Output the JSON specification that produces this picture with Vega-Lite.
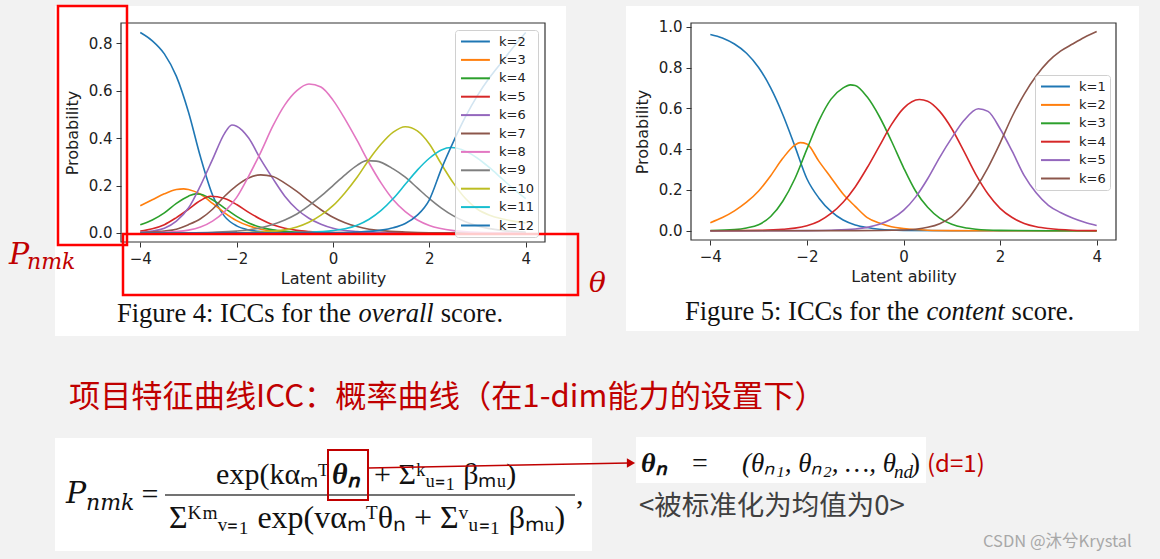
{
  "$schema": "https://vega.github.io/schema/vega-lite/v6.json",
  "background": "#f2f2f2",
  "padding": {"left": 8, "top": 4, "right": 40, "bottom": 40},
  "bounds": "flush",
  "spacing": 146,
  "resolve": {"scale": {"color": "independent"}},
  "config": {
    "view": {"stroke": null},
    "axis": {"grid": false, "domain": false, "tickColor": "#333", "tickSize": 5, "tickWidth": 1,
      "labelFont": "DejaVu Sans", "labelFontSize": 15, "labelColor": "#222", "labelPadding": 4,
      "titleFont": "DejaVu Sans", "titleFontSize": 16, "titleFontWeight": "normal", "titleColor": "#222"},
    "legend": {"title": null, "symbolType": "M-0.85,0H3.6", "symbolStrokeWidth": 2, "symbolSize": 169,
      "labelFont": "DejaVu Sans", "labelFontSize": 13, "labelColor": "#222", "rowPadding": 3.4, "padding": 4,
      "fillColor": "rgba(255,255,255,0.8)", "strokeColor": "#d0d0d0", "cornerRadius": 3, "labelOffset": 25, "zindex": 2}
  },
  "datasets": {
    "overall": [
      {"k":"k=2","t":-4,"p":0.845},{"k":"k=2","t":-3.75,"p":0.81},{"k":"k=2","t":-3.5,"p":0.755},{"k":"k=2","t":-3.25,"p":0.66},{"k":"k=2","t":-3,"p":0.51},{"k":"k=2","t":-2.75,"p":0.32},{"k":"k=2","t":-2.5,"p":0.16},{"k":"k=2","t":-2.25,"p":0.07},{"k":"k=2","t":-2,"p":0.03},{"k":"k=2","t":-1.75,"p":0.013},{"k":"k=2","t":-1.5,"p":0.006},{"k":"k=2","t":-1,"p":0.002},{"k":"k=2","t":0,"p":0.0005},{"k":"k=2","t":4,"p":0},
      {"k":"k=3","t":-4,"p":0.115},{"k":"k=3","t":-3.75,"p":0.14},{"k":"k=3","t":-3.5,"p":0.165},{"k":"k=3","t":-3.25,"p":0.183},{"k":"k=3","t":-3.1,"p":0.186},{"k":"k=3","t":-3,"p":0.183},{"k":"k=3","t":-2.75,"p":0.163},{"k":"k=3","t":-2.5,"p":0.125},{"k":"k=3","t":-2.25,"p":0.085},{"k":"k=3","t":-2,"p":0.052},{"k":"k=3","t":-1.75,"p":0.03},{"k":"k=3","t":-1.5,"p":0.016},{"k":"k=3","t":-1.25,"p":0.008},{"k":"k=3","t":-1,"p":0.004},{"k":"k=3","t":-0.5,"p":0.001},{"k":"k=3","t":0.5,"p":0},{"k":"k=3","t":4,"p":0},
      {"k":"k=4","t":-4,"p":0.035},{"k":"k=4","t":-3.75,"p":0.055},{"k":"k=4","t":-3.5,"p":0.085},{"k":"k=4","t":-3.25,"p":0.125},{"k":"k=4","t":-3,"p":0.155},{"k":"k=4","t":-2.85,"p":0.165},{"k":"k=4","t":-2.75,"p":0.163},{"k":"k=4","t":-2.5,"p":0.14},{"k":"k=4","t":-2.25,"p":0.105},{"k":"k=4","t":-2,"p":0.07},{"k":"k=4","t":-1.75,"p":0.042},{"k":"k=4","t":-1.5,"p":0.024},{"k":"k=4","t":-1.25,"p":0.013},{"k":"k=4","t":-1,"p":0.007},{"k":"k=4","t":-0.5,"p":0.002},{"k":"k=4","t":0,"p":0.0005},{"k":"k=4","t":4,"p":0},
      {"k":"k=5","t":-4,"p":0.008},{"k":"k=5","t":-3.75,"p":0.018},{"k":"k=5","t":-3.5,"p":0.035},{"k":"k=5","t":-3.25,"p":0.065},{"k":"k=5","t":-3,"p":0.1},{"k":"k=5","t":-2.75,"p":0.137},{"k":"k=5","t":-2.55,"p":0.155},{"k":"k=5","t":-2.25,"p":0.145},{"k":"k=5","t":-2,"p":0.12},{"k":"k=5","t":-1.75,"p":0.087},{"k":"k=5","t":-1.5,"p":0.058},{"k":"k=5","t":-1.25,"p":0.035},{"k":"k=5","t":-1,"p":0.02},{"k":"k=5","t":-0.75,"p":0.011},{"k":"k=5","t":-0.5,"p":0.006},{"k":"k=5","t":0,"p":0.0015},{"k":"k=5","t":1,"p":0},{"k":"k=5","t":4,"p":0},
      {"k":"k=6","t":-4,"p":0.003},{"k":"k=6","t":-3.75,"p":0.008},{"k":"k=6","t":-3.5,"p":0.02},{"k":"k=6","t":-3.25,"p":0.05},{"k":"k=6","t":-3,"p":0.105},{"k":"k=6","t":-2.75,"p":0.2},{"k":"k=6","t":-2.5,"p":0.31},{"k":"k=6","t":-2.25,"p":0.42},{"k":"k=6","t":-2.1,"p":0.455},{"k":"k=6","t":-2,"p":0.45},{"k":"k=6","t":-1.75,"p":0.4},{"k":"k=6","t":-1.5,"p":0.31},{"k":"k=6","t":-1.25,"p":0.23},{"k":"k=6","t":-1,"p":0.155},{"k":"k=6","t":-0.75,"p":0.1},{"k":"k=6","t":-0.5,"p":0.062},{"k":"k=6","t":-0.25,"p":0.037},{"k":"k=6","t":0,"p":0.02},{"k":"k=6","t":0.5,"p":0.006},{"k":"k=6","t":1,"p":0.0015},{"k":"k=6","t":2,"p":0},{"k":"k=6","t":4,"p":0},
      {"k":"k=7","t":-4,"p":0.002},{"k":"k=7","t":-3.5,"p":0.008},{"k":"k=7","t":-3.25,"p":0.016},{"k":"k=7","t":-3,"p":0.035},{"k":"k=7","t":-2.75,"p":0.06},{"k":"k=7","t":-2.5,"p":0.1},{"k":"k=7","t":-2.25,"p":0.155},{"k":"k=7","t":-2,"p":0.2},{"k":"k=7","t":-1.75,"p":0.232},{"k":"k=7","t":-1.5,"p":0.245},{"k":"k=7","t":-1.25,"p":0.238},{"k":"k=7","t":-1,"p":0.21},{"k":"k=7","t":-0.75,"p":0.175},{"k":"k=7","t":-0.5,"p":0.135},{"k":"k=7","t":-0.25,"p":0.098},{"k":"k=7","t":0,"p":0.066},{"k":"k=7","t":0.25,"p":0.043},{"k":"k=7","t":0.5,"p":0.027},{"k":"k=7","t":0.75,"p":0.016},{"k":"k=7","t":1,"p":0.01},{"k":"k=7","t":1.5,"p":0.004},{"k":"k=7","t":2,"p":0.001},{"k":"k=7","t":3,"p":0},{"k":"k=7","t":4,"p":0},
      {"k":"k=8","t":-4,"p":0.001},{"k":"k=8","t":-3.5,"p":0.003},{"k":"k=8","t":-3,"p":0.012},{"k":"k=8","t":-2.75,"p":0.025},{"k":"k=8","t":-2.5,"p":0.05},{"k":"k=8","t":-2.25,"p":0.09},{"k":"k=8","t":-2,"p":0.15},{"k":"k=8","t":-1.75,"p":0.24},{"k":"k=8","t":-1.5,"p":0.34},{"k":"k=8","t":-1.25,"p":0.45},{"k":"k=8","t":-1,"p":0.54},{"k":"k=8","t":-0.75,"p":0.6},{"k":"k=8","t":-0.5,"p":0.628},{"k":"k=8","t":-0.25,"p":0.615},{"k":"k=8","t":0,"p":0.56},{"k":"k=8","t":0.25,"p":0.48},{"k":"k=8","t":0.5,"p":0.39},{"k":"k=8","t":0.75,"p":0.295},{"k":"k=8","t":1,"p":0.21},{"k":"k=8","t":1.25,"p":0.14},{"k":"k=8","t":1.5,"p":0.09},{"k":"k=8","t":1.75,"p":0.055},{"k":"k=8","t":2,"p":0.032},{"k":"k=8","t":2.5,"p":0.01},{"k":"k=8","t":3,"p":0.003},{"k":"k=8","t":4,"p":0.0003},
      {"k":"k=9","t":-4,"p":0},{"k":"k=9","t":-3,"p":0.001},{"k":"k=9","t":-2.5,"p":0.003},{"k":"k=9","t":-2,"p":0.008},{"k":"k=9","t":-1.5,"p":0.022},{"k":"k=9","t":-1.25,"p":0.036},{"k":"k=9","t":-1,"p":0.055},{"k":"k=9","t":-0.75,"p":0.08},{"k":"k=9","t":-0.5,"p":0.115},{"k":"k=9","t":-0.25,"p":0.155},{"k":"k=9","t":0,"p":0.2},{"k":"k=9","t":0.25,"p":0.245},{"k":"k=9","t":0.5,"p":0.285},{"k":"k=9","t":0.7,"p":0.305},{"k":"k=9","t":0.9,"p":0.303},{"k":"k=9","t":1.25,"p":0.27},{"k":"k=9","t":1.5,"p":0.235},{"k":"k=9","t":1.75,"p":0.19},{"k":"k=9","t":2,"p":0.145},{"k":"k=9","t":2.25,"p":0.105},{"k":"k=9","t":2.5,"p":0.072},{"k":"k=9","t":2.75,"p":0.047},{"k":"k=9","t":3,"p":0.03},{"k":"k=9","t":3.5,"p":0.011},{"k":"k=9","t":4,"p":0.004},
      {"k":"k=10","t":-4,"p":0},{"k":"k=10","t":-2,"p":0.001},{"k":"k=10","t":-1.5,"p":0.004},{"k":"k=10","t":-1,"p":0.013},{"k":"k=10","t":-0.75,"p":0.025},{"k":"k=10","t":-0.5,"p":0.045},{"k":"k=10","t":-0.25,"p":0.075},{"k":"k=10","t":0,"p":0.115},{"k":"k=10","t":0.25,"p":0.17},{"k":"k=10","t":0.5,"p":0.235},{"k":"k=10","t":0.75,"p":0.31},{"k":"k=10","t":1,"p":0.375},{"k":"k=10","t":1.25,"p":0.425},{"k":"k=10","t":1.5,"p":0.448},{"k":"k=10","t":1.75,"p":0.43},{"k":"k=10","t":2,"p":0.375},{"k":"k=10","t":2.25,"p":0.29},{"k":"k=10","t":2.5,"p":0.21},{"k":"k=10","t":2.75,"p":0.145},{"k":"k=10","t":3,"p":0.1},{"k":"k=10","t":3.25,"p":0.075},{"k":"k=10","t":3.5,"p":0.06},{"k":"k=10","t":3.75,"p":0.05},{"k":"k=10","t":4,"p":0.042},
      {"k":"k=11","t":-4,"p":0},{"k":"k=11","t":-1,"p":0.001},{"k":"k=11","t":-0.5,"p":0.003},{"k":"k=11","t":0,"p":0.01},{"k":"k=11","t":0.25,"p":0.018},{"k":"k=11","t":0.5,"p":0.033},{"k":"k=11","t":0.75,"p":0.058},{"k":"k=11","t":1,"p":0.095},{"k":"k=11","t":1.25,"p":0.145},{"k":"k=11","t":1.5,"p":0.205},{"k":"k=11","t":1.75,"p":0.265},{"k":"k=11","t":2,"p":0.315},{"k":"k=11","t":2.25,"p":0.35},{"k":"k=11","t":2.45,"p":0.36},{"k":"k=11","t":2.75,"p":0.345},{"k":"k=11","t":3,"p":0.315},{"k":"k=11","t":3.25,"p":0.275},{"k":"k=11","t":3.5,"p":0.23},{"k":"k=11","t":3.75,"p":0.185},{"k":"k=11","t":4,"p":0.145},
      {"k":"k=12","t":-4,"p":0},{"k":"k=12","t":0,"p":0.001},{"k":"k=12","t":0.5,"p":0.004},{"k":"k=12","t":1,"p":0.012},{"k":"k=12","t":1.25,"p":0.022},{"k":"k=12","t":1.5,"p":0.04},{"k":"k=12","t":1.75,"p":0.075},{"k":"k=12","t":2,"p":0.14},{"k":"k=12","t":2.25,"p":0.27},{"k":"k=12","t":2.5,"p":0.385},{"k":"k=12","t":2.75,"p":0.49},{"k":"k=12","t":3,"p":0.58},{"k":"k=12","t":3.25,"p":0.655},{"k":"k=12","t":3.5,"p":0.72},{"k":"k=12","t":3.75,"p":0.785},{"k":"k=12","t":4,"p":0.845}
    ],
    "content": [
      {"k":"k=1","t":-4,"p":0.962},{"k":"k=1","t":-3.75,"p":0.945},{"k":"k=1","t":-3.5,"p":0.915},{"k":"k=1","t":-3.25,"p":0.87},{"k":"k=1","t":-3,"p":0.8},{"k":"k=1","t":-2.75,"p":0.7},{"k":"k=1","t":-2.5,"p":0.57},{"k":"k=1","t":-2.25,"p":0.415},{"k":"k=1","t":-2,"p":0.255},{"k":"k=1","t":-1.75,"p":0.16},{"k":"k=1","t":-1.5,"p":0.095},{"k":"k=1","t":-1.25,"p":0.053},{"k":"k=1","t":-1,"p":0.029},{"k":"k=1","t":-0.75,"p":0.016},{"k":"k=1","t":-0.5,"p":0.008},{"k":"k=1","t":0,"p":0.002},{"k":"k=1","t":1,"p":0},{"k":"k=1","t":4,"p":0},
      {"k":"k=2","t":-4,"p":0.04},{"k":"k=2","t":-3.75,"p":0.065},{"k":"k=2","t":-3.5,"p":0.098},{"k":"k=2","t":-3.25,"p":0.14},{"k":"k=2","t":-3,"p":0.195},{"k":"k=2","t":-2.75,"p":0.27},{"k":"k=2","t":-2.5,"p":0.355},{"k":"k=2","t":-2.25,"p":0.42},{"k":"k=2","t":-2.14,"p":0.432},{"k":"k=2","t":-2,"p":0.425},{"k":"k=2","t":-1.75,"p":0.34},{"k":"k=2","t":-1.5,"p":0.26},{"k":"k=2","t":-1.25,"p":0.18},{"k":"k=2","t":-1,"p":0.12},{"k":"k=2","t":-0.75,"p":0.065},{"k":"k=2","t":-0.5,"p":0.038},{"k":"k=2","t":-0.25,"p":0.02},{"k":"k=2","t":0,"p":0.011},{"k":"k=2","t":0.5,"p":0.003},{"k":"k=2","t":1,"p":0.001},{"k":"k=2","t":2,"p":0},{"k":"k=2","t":4,"p":0},
      {"k":"k=3","t":-4,"p":0.001},{"k":"k=3","t":-3.5,"p":0.006},{"k":"k=3","t":-3.25,"p":0.014},{"k":"k=3","t":-3,"p":0.03},{"k":"k=3","t":-2.75,"p":0.07},{"k":"k=3","t":-2.5,"p":0.145},{"k":"k=3","t":-2.25,"p":0.255},{"k":"k=3","t":-2,"p":0.4},{"k":"k=3","t":-1.75,"p":0.54},{"k":"k=3","t":-1.5,"p":0.645},{"k":"k=3","t":-1.25,"p":0.7},{"k":"k=3","t":-1.1,"p":0.715},{"k":"k=3","t":-1,"p":0.712},{"k":"k=3","t":-0.75,"p":0.655},{"k":"k=3","t":-0.5,"p":0.56},{"k":"k=3","t":-0.25,"p":0.44},{"k":"k=3","t":0,"p":0.31},{"k":"k=3","t":0.25,"p":0.195},{"k":"k=3","t":0.5,"p":0.115},{"k":"k=3","t":0.75,"p":0.062},{"k":"k=3","t":1,"p":0.032},{"k":"k=3","t":1.25,"p":0.016},{"k":"k=3","t":1.5,"p":0.008},{"k":"k=3","t":2,"p":0.002},{"k":"k=3","t":3,"p":0},{"k":"k=3","t":4,"p":0},
      {"k":"k=4","t":-4,"p":0},{"k":"k=4","t":-3,"p":0.002},{"k":"k=4","t":-2.5,"p":0.007},{"k":"k=4","t":-2.25,"p":0.013},{"k":"k=4","t":-2,"p":0.025},{"k":"k=4","t":-1.75,"p":0.047},{"k":"k=4","t":-1.5,"p":0.085},{"k":"k=4","t":-1.25,"p":0.14},{"k":"k=4","t":-1,"p":0.215},{"k":"k=4","t":-0.75,"p":0.31},{"k":"k=4","t":-0.5,"p":0.415},{"k":"k=4","t":-0.25,"p":0.52},{"k":"k=4","t":0,"p":0.6},{"k":"k=4","t":0.33,"p":0.643},{"k":"k=4","t":0.5,"p":0.635},{"k":"k=4","t":0.75,"p":0.585},{"k":"k=4","t":1,"p":0.5},{"k":"k=4","t":1.25,"p":0.39},{"k":"k=4","t":1.5,"p":0.275},{"k":"k=4","t":1.75,"p":0.18},{"k":"k=4","t":2,"p":0.11},{"k":"k=4","t":2.25,"p":0.065},{"k":"k=4","t":2.5,"p":0.036},{"k":"k=4","t":2.75,"p":0.02},{"k":"k=4","t":3,"p":0.011},{"k":"k=4","t":3.5,"p":0.003},{"k":"k=4","t":4,"p":0.001},
      {"k":"k=5","t":-4,"p":0},{"k":"k=5","t":-2,"p":0.001},{"k":"k=5","t":-1.5,"p":0.003},{"k":"k=5","t":-1,"p":0.009},{"k":"k=5","t":-0.75,"p":0.017},{"k":"k=5","t":-0.5,"p":0.032},{"k":"k=5","t":-0.25,"p":0.058},{"k":"k=5","t":0,"p":0.1},{"k":"k=5","t":0.25,"p":0.165},{"k":"k=5","t":0.5,"p":0.255},{"k":"k=5","t":0.75,"p":0.36},{"k":"k=5","t":1,"p":0.455},{"k":"k=5","t":1.25,"p":0.54},{"k":"k=5","t":1.55,"p":0.598},{"k":"k=5","t":1.75,"p":0.585},{"k":"k=5","t":2,"p":0.5},{"k":"k=5","t":2.25,"p":0.39},{"k":"k=5","t":2.5,"p":0.27},{"k":"k=5","t":2.75,"p":0.185},{"k":"k=5","t":3,"p":0.125},{"k":"k=5","t":3.25,"p":0.09},{"k":"k=5","t":3.5,"p":0.063},{"k":"k=5","t":3.75,"p":0.042},{"k":"k=5","t":4,"p":0.026},
      {"k":"k=6","t":-4,"p":0},{"k":"k=6","t":-1,"p":0.001},{"k":"k=6","t":0,"p":0.004},{"k":"k=6","t":0.25,"p":0.008},{"k":"k=6","t":0.5,"p":0.017},{"k":"k=6","t":0.75,"p":0.035},{"k":"k=6","t":1,"p":0.07},{"k":"k=6","t":1.25,"p":0.13},{"k":"k=6","t":1.5,"p":0.21},{"k":"k=6","t":1.75,"p":0.31},{"k":"k=6","t":2,"p":0.43},{"k":"k=6","t":2.25,"p":0.56},{"k":"k=6","t":2.5,"p":0.67},{"k":"k=6","t":2.75,"p":0.76},{"k":"k=6","t":3,"p":0.83},{"k":"k=6","t":3.25,"p":0.88},{"k":"k=6","t":3.5,"p":0.915},{"k":"k=6","t":3.75,"p":0.948},{"k":"k=6","t":4,"p":0.976}
    ]
  },
  "hconcat": [
    {
      "width": 424, "height": 219,
      "data": {"values": [{}]},
      "layer": [
        {"mark": {"type": "rect", "fill": "white"}, "encoding": {"x": {"datum": -5.770}, "x2": {"datum": 4.836}, "y": {"datum": 0.9567}, "y2": {"datum": -0.4342}}},
        {"mark": {"type": "rect", "filled": false, "stroke": "#333", "strokeWidth": 1.2}, "encoding": {"x": {"datum": -4.4}, "x2": {"datum": 4.4}, "y": {"datum": -0.038}, "y2": {"datum": 0.885}}},
        {
          "data": {"name": "overall"},
          "mark": {"type": "line", "interpolate": "monotone", "strokeWidth": 1.6},
          "encoding": {
            "x": {"field": "t", "type": "quantitative", "scale": {"domain": [-4.4, 4.4], "nice": false, "zero": false}, "axis": {"values": [-4, -2, 0, 2, 4], "format": "d", "title": "Latent ability", "titlePadding": 4, "zindex": 1}},
            "y": {"field": "p", "type": "quantitative", "scale": {"domain": [-0.038, 0.885], "nice": false, "zero": false}, "axis": {"values": [0, 0.2, 0.4, 0.6, 0.8], "format": ".1f", "title": "Probability", "titlePadding": 8, "zindex": 1}},
            "color": {"field": "k", "type": "nominal",
              "scale": {"domain": ["k=2","k=3","k=4","k=5","k=6","k=7","k=8","k=9","k=10","k=11","k=12"],
                        "range": ["#1f77b4","#ff7f0e","#2ca02c","#d62728","#9467bd","#8c564b","#e377c2","#7f7f7f","#bcbd22","#17becf","#1f77b4"]},
              "legend": {"orient": "none", "legendX": 334, "legendY": 7}}
          }
        },
        {"mark": {"type": "rect", "filled": false, "stroke": "#ff0000", "strokeWidth": 2.5}, "encoding": {"x": {"datum": -5.7076}, "x2": {"datum": -4.2755}, "y": {"datum": 0.9567}, "y2": {"datum": -0.0507}}},
        {"mark": {"type": "rect", "filled": false, "stroke": "#ff0000", "strokeWidth": 2.5}, "encoding": {"x": {"datum": -4.3585}, "x2": {"datum": 5.085}, "y": {"datum": -0.0043}, "y2": {"datum": -0.2614}}},
        {"mark": {"type": "text", "text": "P", "font": "DejaVu Serif", "fontStyle": "italic", "fontSize": 30, "color": "#c00000", "align": "left", "baseline": "alphabetic"}, "encoding": {"x": {"datum": -6.7246}, "y": {"datum": -0.1307}}},
        {"mark": {"type": "text", "text": "nmk", "font": "DejaVu Serif", "fontStyle": "italic", "fontSize": 22, "color": "#c00000", "align": "left", "baseline": "alphabetic"}, "encoding": {"x": {"datum": -6.351}, "y": {"datum": -0.1518}}},
        {"mark": {"type": "text", "text": "θ", "font": "DejaVu Serif", "fontStyle": "italic", "fontSize": 28, "color": "#c00000", "align": "left", "baseline": "alphabetic"}, "encoding": {"x": {"datum": 5.313}, "y": {"datum": -0.2487}}},
        {"mark": {"type": "text", "text": "Figure 4: ICCs for the", "font": "Liberation Serif", "fontSize": 26.5, "color": "#111", "align": "left", "baseline": "alphabetic"}, "encoding": {"x": {"datum": -4.483}, "y": {"datum": -0.3752}}},
        {"mark": {"type": "text", "text": "overall", "font": "Liberation Serif", "fontStyle": "italic", "fontSize": 26.5, "color": "#111", "align": "left", "baseline": "alphabetic"}, "encoding": {"x": {"datum": 0.5315}, "y": {"datum": -0.3752}}},
        {"mark": {"type": "text", "text": "score.", "font": "Liberation Serif", "fontSize": 26.5, "color": "#111", "align": "left", "baseline": "alphabetic"}, "encoding": {"x": {"datum": 2.2355}, "y": {"datum": -0.3752}}},
        {"mark": {"type": "text", "text": "项目特征曲线ICC：概率曲线（在1-dim能力的设置下）", "font": "Noto Sans CJK SC", "fontSize": 31.2, "color": "#c00000", "align": "left", "baseline": "alphabetic"}, "encoding": {"x": {"datum": -5.4793}, "y": {"datum": -0.7334}}},
        {"mark": {"type": "rect", "fill": "white"}, "encoding": {"x": {"datum": -5.770}, "x2": {"datum": 5.376}, "y": {"datum": -0.8641}, "y2": {"datum": -1.3403}}},
        {"mark": {"type": "text", "text": "P", "font": "DejaVu Serif", "fontStyle": "italic", "fontSize": 30, "color": "#111", "align": "left", "baseline": "alphabetic"}, "encoding": {"x": {"datum": -5.5415}, "y": {"datum": -1.138}}},
        {"mark": {"type": "text", "text": "nmk", "font": "DejaVu Serif", "fontStyle": "italic", "fontSize": 22, "color": "#111", "align": "left", "baseline": "alphabetic"}, "encoding": {"x": {"datum": -5.1264}, "y": {"datum": -1.1675}}},
        {"mark": {"type": "text", "text": "=", "font": "Liberation Serif", "fontSize": 30, "color": "#111", "align": "center", "baseline": "alphabetic"}, "encoding": {"x": {"datum": -3.7981}, "y": {"datum": -1.1422}}},
        {"mark": {"type": "rule", "color": "#444", "strokeWidth": 1.6}, "encoding": {"x": {"datum": -3.4868}, "x2": {"datum": 5.0229}, "y": {"datum": -1.1043}}},
        {"mark": {"type": "text", "text": "exp(kαₘᵀ", "font": "Liberation Serif", "fontSize": 30, "color": "#111", "align": "right", "baseline": "alphabetic"}, "encoding": {"x": {"datum": -0.0829}, "y": {"datum": -1.0579}}},
        {"mark": {"type": "text", "text": "θₙ", "font": "Liberation Serif", "fontStyle": "italic", "fontWeight": "bold", "fontSize": 30, "color": "#111", "align": "left", "baseline": "alphabetic"}, "encoding": {"x": {"datum": -0.0206}, "y": {"datum": -1.0579}}},
        {"mark": {"type": "text", "text": "+ Σᵏᵤ₌₁ βₘᵤ)", "font": "Liberation Serif", "fontSize": 30, "color": "#111", "align": "left", "baseline": "alphabetic"}, "encoding": {"x": {"datum": 0.8511}, "y": {"datum": -1.0579}}},
        {"mark": {"type": "text", "text": "Σᴷᵐᵥ₌₁ exp(vαₘᵀθₙ + Σᵛᵤ₌₁ βₘᵤ)", "font": "Liberation Serif", "fontSize": 32, "color": "#111", "align": "center", "baseline": "alphabetic"}, "encoding": {"x": {"datum": 0.7058}, "y": {"datum": -1.2434}}},
        {"mark": {"type": "text", "text": ",", "font": "Liberation Serif", "fontSize": 30, "color": "#111", "align": "left", "baseline": "alphabetic"}, "encoding": {"x": {"datum": 5.0437}, "y": {"datum": -1.1422}}},
        {"mark": {"type": "rect", "filled": false, "stroke": "#c00000", "strokeWidth": 2}, "encoding": {"x": {"datum": -0.1037}, "x2": {"datum": 0.7265}, "y": {"datum": -0.9146}, "y2": {"datum": -1.1254}}}
      ]
    },
    {
      "width": 425, "height": 217,
      "data": {"values": [{}]},
      "layer": [
        {"mark": {"type": "rect", "fill": "white"}, "encoding": {"x": {"datum": -5.7459}, "x2": {"datum": 4.8763}, "y": {"datum": 1.1013}, "y2": {"datum": -0.4908}}},
        {"mark": {"type": "rect", "filled": false, "stroke": "#333", "strokeWidth": 1.2}, "encoding": {"x": {"datum": -4.4}, "x2": {"datum": 4.4}, "y": {"datum": -0.045}, "y2": {"datum": 1.018}}},
        {
          "data": {"name": "content"},
          "mark": {"type": "line", "interpolate": "monotone", "strokeWidth": 1.6},
          "encoding": {
            "x": {"field": "t", "type": "quantitative", "scale": {"domain": [-4.4, 4.4], "nice": false, "zero": false}, "axis": {"values": [-4, -2, 0, 2, 4], "format": "d", "title": "Latent ability", "titlePadding": 4, "zindex": 1}},
            "y": {"field": "p", "type": "quantitative", "scale": {"domain": [-0.045, 1.018], "nice": false, "zero": false}, "axis": {"values": [0, 0.2, 0.4, 0.6, 0.8, 1.0], "format": ".1f", "title": "Probability", "titlePadding": 8, "zindex": 1}},
            "color": {"field": "k", "type": "nominal",
              "scale": {"domain": ["k=1","k=2","k=3","k=4","k=5","k=6"],
                        "range": ["#1f77b4","#ff7f0e","#2ca02c","#d62728","#9467bd","#8c564b"]},
              "legend": {"orient": "none", "legendX": 344, "legendY": 52}}
          }
        },
        {"mark": {"type": "text", "text": "Figure 5: ICCs for the", "font": "Liberation Serif", "fontSize": 26.5, "color": "#111", "align": "left", "baseline": "alphabetic"}, "encoding": {"x": {"datum": -4.5242}, "y": {"datum": -0.4369}}},
        {"mark": {"type": "text", "text": "content", "font": "Liberation Serif", "fontStyle": "italic", "fontSize": 26.5, "color": "#111", "align": "left", "baseline": "alphabetic"}, "encoding": {"x": {"datum": 0.4784}, "y": {"datum": -0.4369}}},
        {"mark": {"type": "text", "text": "score.", "font": "Liberation Serif", "fontSize": 26.5, "color": "#111", "align": "left", "baseline": "alphabetic"}, "encoding": {"x": {"datum": 2.2384}, "y": {"datum": -0.4369}}},
        {"mark": {"type": "rect", "fill": "white"}, "encoding": {"x": {"datum": -5.5388}, "x2": {"datum": 0.4659}, "y": {"datum": -1.01}, "y2": {"datum": -1.2353}}},
        {"mark": {"type": "rule", "color": "#c00000", "strokeWidth": 1.5}, "encoding": {"x": {"datum": -11.0881}, "x2": {"datum": -5.6838}, "y": {"datum": -1.1619}, "y2": {"datum": -1.1374}}},
        {"mark": {"type": "point", "shape": "triangle-right", "filled": true, "color": "#c00000", "size": 90, "opacity": 1}, "encoding": {"x": {"datum": -5.6424}, "y": {"datum": -1.1374}}},
        {"mark": {"type": "text", "text": "θₙ", "font": "Liberation Serif", "fontStyle": "italic", "fontWeight": "bold", "fontSize": 28, "color": "#111", "align": "left", "baseline": "alphabetic"}, "encoding": {"x": {"datum": -5.4353}, "y": {"datum": -1.1815}}},
        {"mark": {"type": "text", "text": "=", "font": "Liberation Serif", "fontSize": 28, "color": "#111", "align": "center", "baseline": "alphabetic"}, "encoding": {"x": {"datum": -4.2136}, "y": {"datum": -1.1815}}},
        {"mark": {"type": "text", "text": "(θₙ₁, θₙ₂, …, θ", "font": "Liberation Serif", "fontStyle": "italic", "fontSize": 27, "color": "#111", "align": "left", "baseline": "alphabetic"}, "encoding": {"x": {"datum": -3.344}, "y": {"datum": -1.1815}}},
        {"mark": {"type": "text", "text": "nd", "font": "Liberation Serif", "fontStyle": "italic", "fontSize": 19, "color": "#111", "align": "left", "baseline": "alphabetic"}, "encoding": {"x": {"datum": -0.1967}, "y": {"datum": -1.2109}}},
        {"mark": {"type": "text", "text": ")", "font": "Liberation Serif", "fontSize": 27, "color": "#111", "align": "left", "baseline": "alphabetic"}, "encoding": {"x": {"datum": 0.1553}, "y": {"datum": -1.1815}}},
        {"mark": {"type": "text", "text": "(d=1)", "font": "Noto Sans CJK SC", "fontSize": 24, "color": "#c00000", "align": "left", "baseline": "alphabetic"}, "encoding": {"x": {"datum": 0.4866}, "y": {"datum": -1.1815}}},
        {"mark": {"type": "text", "text": "<被标准化为均值为0>", "font": "Noto Sans CJK SC", "fontSize": 27.5, "color": "#404040", "align": "left", "baseline": "alphabetic"}, "encoding": {"x": {"datum": -5.4767}, "y": {"datum": -1.3921}}},
        {"mark": {"type": "text", "text": "CSDN @沐兮Krystal", "font": "Noto Sans CJK SC", "fontSize": 16.5, "color": "#a8a8a8", "align": "left", "baseline": "alphabetic"}, "encoding": {"x": {"datum": 1.6462}, "y": {"datum": -1.5489}}}
      ]
    }
  ]
}
